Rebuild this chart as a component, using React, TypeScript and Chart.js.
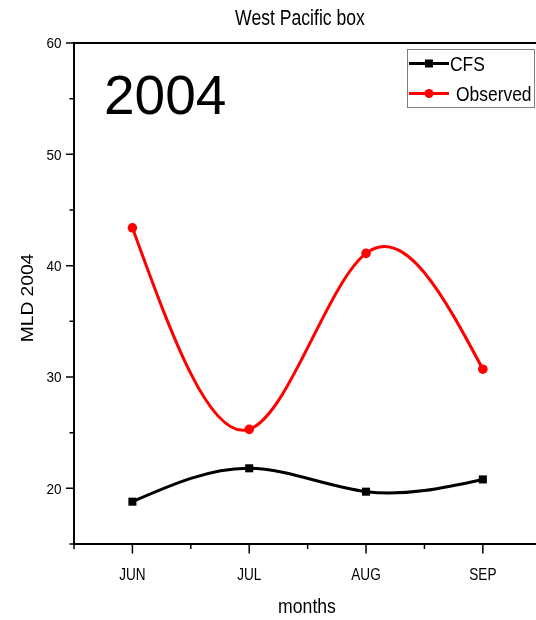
import { useEffect, useRef } from 'react';
import { Chart, registerables } from 'chart.js';

Chart.register(...registerables);

// Mixed-layer depth, West Pacific box, 2004
const months = ['JUN', 'JUL', 'AUG', 'SEP'];
const monthPos = [1, 2, 3, 4];
const cfs = [18.8, 21.8, 19.7, 20.8];
const observed = [43.4, 25.3, 41.1, 30.7];

const yMajorTicks = [20, 30, 40, 50, 60];
const yMinorTicks = [15, 25, 35, 45, 55];
const xMinorTicks = [0.5, 1.5, 2.5, 3.5];

const titleText = 'West Pacific box';
const yearText = '2004';
const xTitle = 'months';
const yTitle = 'MLD 2004';

const FONT = "'Liberation Sans', Arial, sans-serif";
const CAP = 0.716;

type Align = 'left' | 'center' | 'right';

// Text with a horizontal squeeze/stretch along its own direction
function drawText(
  ctx: CanvasRenderingContext2D,
  text: string,
  x: number,
  y: number,
  size: number,
  sx: number,
  align: Align,
  rotate = 0,
) {
  ctx.save();
  ctx.translate(x, y);
  if (rotate) ctx.rotate(rotate);
  ctx.scale(sx, 1);
  ctx.font = `${size}px ${FONT}`;
  ctx.textAlign = align;
  ctx.textBaseline = 'alphabetic';
  ctx.fillStyle = '#000';
  ctx.fillText(text, 0, 0);
  ctx.restore();
}

// Slopes of a natural cubic spline through (xs, ys)
function naturalSlopes(xs: number[], ys: number[]): number[] {
  const n = xs.length;
  if (n < 2) return xs.map(() => 0);
  const h: number[] = [];
  for (let i = 0; i < n - 1; i++) h.push(xs[i + 1] - xs[i]);
  const M = new Array(n).fill(0);
  if (n > 2) {
    const a: number[] = [], b: number[] = [], c: number[] = [], d: number[] = [];
    for (let i = 1; i < n - 1; i++) {
      a.push(h[i - 1]);
      b.push(2 * (h[i - 1] + h[i]));
      c.push(h[i]);
      d.push(6 * ((ys[i + 1] - ys[i]) / h[i] - (ys[i] - ys[i - 1]) / h[i - 1]));
    }
    const m = b.length;
    for (let i = 1; i < m; i++) {
      const w = a[i] / b[i - 1];
      b[i] -= w * c[i - 1];
      d[i] -= w * d[i - 1];
    }
    const sol = new Array(m).fill(0);
    sol[m - 1] = d[m - 1] / b[m - 1];
    for (let i = m - 2; i >= 0; i--) sol[i] = (d[i] - c[i] * sol[i + 1]) / b[i];
    for (let i = 0; i < m; i++) M[i + 1] = sol[i];
  }
  const slopes: number[] = [];
  for (let i = 0; i < n - 1; i++) {
    slopes.push((ys[i + 1] - ys[i]) / h[i] - (h[i] * (2 * M[i] + M[i + 1])) / 6);
  }
  const k = n - 2;
  slopes.push((ys[n - 1] - ys[k]) / h[k] + (h[k] * (M[k] + 2 * M[n - 1])) / 6);
  return slopes;
}

// Replace the default bezier control points with natural-spline ones
const splinePlugin = {
  id: 'naturalSpline',
  beforeDatasetDraw(chart: any, args: any) {
    const meta = args.meta;
    const line = meta.dataset;
    if (!line || !meta.data.length) return;
    line.updateControlPoints(chart.chartArea, meta.indexAxis);
    const pts = meta.data;
    const xs = pts.map((p: any) => p.x);
    const ys = pts.map((p: any) => p.y);
    const m = naturalSlopes(xs, ys);
    const n = pts.length;
    for (let i = 0; i < n; i++) {
      const hPrev = i > 0 ? xs[i] - xs[i - 1] : 0;
      const hNext = i < n - 1 ? xs[i + 1] - xs[i] : 0;
      pts[i].cp1x = xs[i] - hPrev / 3;
      pts[i].cp1y = ys[i] - (m[i] * hPrev) / 3;
      pts[i].cp2x = xs[i] + hNext / 3;
      pts[i].cp2y = ys[i] + (m[i] * hNext) / 3;
    }
  },
};

// Axes, ticks, labels, titles and legend
const decorPlugin = {
  id: 'decor',
  afterDraw(chart: any) {
    const { ctx, chartArea: a, scales } = chart;
    const xs = scales.x;
    const ys = scales.y;
    ctx.save();
    ctx.strokeStyle = '#000';
    ctx.lineCap = 'butt';

    ctx.lineWidth = 2;
    ctx.beginPath();
    ctx.moveTo(a.left, a.top);
    ctx.lineTo(a.right, a.top);
    ctx.moveTo(a.left, a.top - 1);
    ctx.lineTo(a.left, a.bottom + 1);
    ctx.moveTo(a.left - 1, a.bottom);
    ctx.lineTo(a.right, a.bottom);
    ctx.stroke();

    ctx.lineWidth = 1.5;
    ctx.beginPath();
    for (const v of yMajorTicks) {
      const py = ys.getPixelForValue(v);
      ctx.moveTo(a.left - 8, py);
      ctx.lineTo(a.left, py);
    }
    for (const v of yMinorTicks) {
      const py = ys.getPixelForValue(v);
      ctx.moveTo(a.left - 4.5, py);
      ctx.lineTo(a.left, py);
    }
    for (const v of monthPos) {
      const px = xs.getPixelForValue(v);
      ctx.moveTo(px, a.bottom);
      ctx.lineTo(px, a.bottom + 9.5);
    }
    for (const v of xMinorTicks) {
      const px = xs.getPixelForValue(v);
      ctx.moveTo(px, a.bottom);
      ctx.lineTo(px, a.bottom + 5);
    }
    ctx.stroke();

    // tick labels
    for (const v of yMajorTicks) {
      const py = ys.getPixelForValue(v);
      drawText(ctx, String(v), a.left - 12.5, py + (CAP * 15) / 2, 15, 0.9, 'right');
    }
    monthPos.forEach((v, i) => {
      const px = xs.getPixelForValue(v);
      drawText(ctx, months[i], px, a.bottom + 36, 17, 0.8, 'center');
    });

    // titles
    drawText(ctx, titleText, 300, 25, 22, 0.8, 'center');
    drawText(ctx, xTitle, 307, 613, 21, 0.84, 'center');
    drawText(ctx, yTitle, 33, 298, 16, 1.2, 'center', -Math.PI / 2);
    drawText(ctx, yearText, a.left + 30, a.top + 71, 55, 1, 'left');

    // legend
    const bx = 407.5, by = 49.5, bw = 127, bh = 58;
    ctx.lineWidth = 1;
    ctx.strokeStyle = '#808080';
    ctx.strokeRect(bx, by, bw, bh);
    const rows = [63.5, 93.5];
    const textX = [450, 456];
    chart.data.datasets.forEach((ds: any, i: number) => {
      const y = rows[i];
      ctx.strokeStyle = ds.borderColor;
      ctx.fillStyle = ds.borderColor;
      ctx.lineWidth = 3;
      ctx.beginPath();
      ctx.moveTo(409, y);
      ctx.lineTo(449, y);
      ctx.stroke();
      ctx.beginPath();
      if (ds.pointStyle === 'rect') {
        ctx.rect(429 - 4, y - 4, 8, 8);
      } else {
        ctx.arc(429, y, 4.5, 0, Math.PI * 2);
      }
      ctx.fill();
      drawText(ctx, ds.label, textX[i], y + (CAP * 21) / 2, 21, 0.83, 'left');
    });
    ctx.restore();
  },
};

export default function App() {
  const ref = useRef<HTMLCanvasElement | null>(null);

  useEffect(() => {
    if (!ref.current) return;
    const chart = new Chart(ref.current, {
      type: 'line',
      data: {
        datasets: [
          {
            label: 'CFS',
            data: monthPos.map((x, i) => ({ x, y: cfs[i] })),
            borderColor: '#000000',
            backgroundColor: '#000000',
            borderWidth: 3,
            pointStyle: 'rect',
            pointRadius: 5.7,
            pointBorderWidth: 0,
            tension: 0.4,
          },
          {
            label: 'Observed',
            data: monthPos.map((x, i) => ({ x, y: observed[i] })),
            borderColor: '#ff0000',
            backgroundColor: '#ff0000',
            borderWidth: 3,
            pointStyle: 'circle',
            pointRadius: 4.8,
            pointBorderWidth: 0,
            tension: 0.4,
          },
        ],
      },
      options: {
        animation: false,
        responsive: false,
        devicePixelRatio: 1,
        layout: { autoPadding: false, padding: { top: 43, right: 0, left: 0, bottom: 0 } },
        plugins: {
          legend: { display: false },
          title: { display: false },
          tooltip: { enabled: false },
        },
        scales: {
          x: {
            type: 'linear',
            min: 0.5,
            max: 4.455,
            afterBuildTicks: (s: any) => {
              s.ticks = monthPos.map((value) => ({ value }));
            },
            afterFit: (s: any) => {
              s.height = 76;
            },
            ticks: { display: false },
            grid: { display: false },
            border: { display: false },
          },
          y: {
            type: 'linear',
            min: 15,
            max: 60,
            afterBuildTicks: (s: any) => {
              s.ticks = yMajorTicks.map((value) => ({ value }));
            },
            afterFit: (s: any) => {
              s.width = 74;
            },
            ticks: { display: false },
            grid: { display: false },
            border: { display: false },
          },
        },
      },
      plugins: [splinePlugin, decorPlugin],
    } as any);
    return () => chart.destroy();
  }, []);

  return (
    <div style={{ position: 'fixed', left: 0, top: 0, width: 536, height: 620, background: '#fff' }}>
      <canvas ref={ref} width={536} height={620} style={{ display: 'block' }} />
    </div>
  );
}
